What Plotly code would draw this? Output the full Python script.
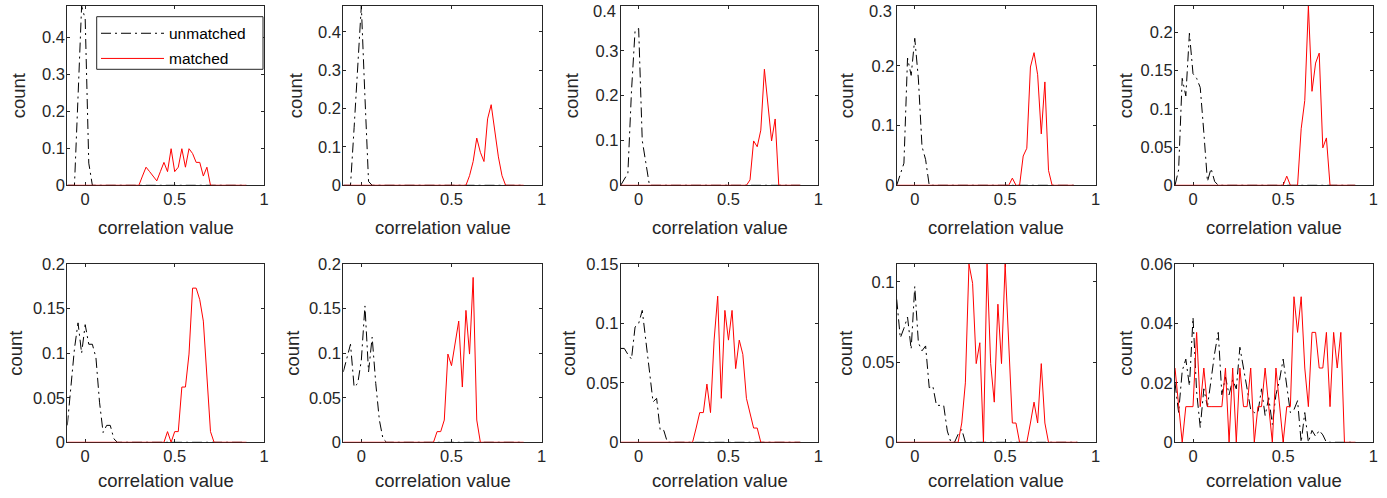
import plotly.graph_objects as go

# ---------------- data ----------------
bins = [-0.10, -0.08, -0.06, -0.04, -0.02, 0.00, 0.02, 0.04, 0.06, 0.08, 0.10, 0.12, 0.14, 0.16, 0.18, 0.20, 0.22,
        0.24, 0.26, 0.28, 0.30, 0.32, 0.34, 0.36, 0.38, 0.40, 0.42, 0.44, 0.46, 0.48, 0.50, 0.52, 0.54, 0.56,
        0.58, 0.60, 0.62, 0.64, 0.66, 0.68, 0.70, 0.72, 0.74, 0.76, 0.78, 0.80, 0.82, 0.84, 0.86, 0.88, 0.90]

unmatched_1 = [0, 0, 0, 0.24, 0.485, 0.45, 0.06, 0, 0, 0, 0, 0, 0, 0, 0, 0, 0,
               0, 0, 0, 0, 0, 0, 0, 0, 0, 0, 0, 0, 0, 0, 0, 0, 0,
               0, 0, 0, 0, 0, 0, 0, 0, 0, 0, 0, 0, 0, 0, 0, 0, 0]
matched_1 = [0, 0, 0, 0, 0, 0, 0, 0, 0, 0, 0, 0, 0, 0, 0, 0, 0,
             0, 0, 0, 0, 0.025, 0.049, 0.037, 0.025, 0.012, 0.037, 0.062, 0.037, 0.099, 0.037, 0.049, 0.099, 0.049,
             0.099, 0.086, 0.062, 0.062, 0.025, 0.049, 0, 0, 0, 0, 0, 0, 0, 0, 0, 0, 0]

unmatched_2 = [0, 0, 0, 0.15, 0.31, 0.467, 0.23, 0.01, 0, 0, 0, 0, 0, 0, 0, 0, 0,
               0, 0, 0, 0, 0, 0, 0, 0, 0, 0, 0, 0, 0, 0, 0, 0, 0,
               0, 0, 0, 0, 0, 0, 0, 0, 0, 0, 0, 0, 0, 0, 0, 0, 0]
matched_2 = [0, 0, 0, 0, 0, 0, 0, 0, 0, 0, 0, 0, 0, 0, 0, 0, 0,
             0, 0, 0, 0, 0, 0, 0, 0, 0, 0, 0, 0, 0, 0, 0, 0, 0,
             0, 0.025, 0.062, 0.123, 0.086, 0.062, 0.173, 0.21, 0.136, 0.074, 0.025, 0, 0, 0, 0, 0, 0]

unmatched_3 = [0, 0.013, 0.027, 0.21, 0.345, 0.35, 0.10, 0.05, 0, 0, 0, 0, 0, 0, 0, 0, 0,
               0, 0, 0, 0, 0, 0, 0, 0, 0, 0, 0, 0, 0, 0, 0, 0, 0,
               0, 0, 0, 0, 0, 0, 0, 0, 0, 0, 0, 0, 0, 0, 0, 0, 0]
matched_3 = [0, 0, 0, 0, 0, 0, 0, 0, 0, 0, 0, 0, 0, 0, 0, 0, 0,
             0, 0, 0, 0, 0, 0, 0, 0, 0, 0, 0, 0, 0, 0, 0, 0, 0,
             0, 0, 0.012, 0.099, 0.086, 0.123, 0.259, 0.173, 0.099, 0.148, 0, 0, 0, 0, 0, 0, 0]

unmatched_4 = [0, 0.02, 0.037, 0.213, 0.184, 0.246, 0.178, 0.065, 0.043, 0, 0, 0, 0, 0, 0, 0, 0,
               0, 0, 0, 0, 0, 0, 0, 0, 0, 0, 0, 0, 0, 0, 0, 0, 0,
               0, 0, 0, 0, 0, 0, 0, 0, 0, 0, 0, 0, 0, 0, 0, 0, 0]
matched_4 = [0, 0, 0, 0, 0, 0, 0, 0, 0, 0, 0, 0, 0, 0, 0, 0, 0,
             0, 0, 0, 0, 0, 0, 0, 0, 0, 0, 0, 0, 0, 0, 0, 0.012,
             0, 0, 0.049, 0.062, 0.198, 0.222, 0.185, 0.086, 0.173, 0.025, 0, 0, 0, 0, 0, 0, 0]

unmatched_5 = [0, 0.02, 0.14, 0.117, 0.199, 0.146, 0.14, 0.128, 0.069, 0.005, 0.022, 0.005, 0, 0, 0, 0, 0,
               0, 0, 0, 0, 0, 0, 0, 0, 0, 0, 0, 0, 0, 0, 0, 0, 0,
               0, 0, 0, 0, 0, 0, 0, 0, 0, 0, 0, 0, 0, 0, 0, 0, 0]
matched_5 = [0, 0, 0, 0, 0, 0, 0, 0, 0, 0, 0, 0, 0, 0, 0, 0, 0,
             0, 0, 0, 0, 0, 0, 0, 0, 0, 0, 0, 0, 0, 0, 0.012, 0, 0,
             0, 0.074, 0.111, 0.2346, 0.123, 0.16, 0.173, 0.049, 0.062, 0, 0, 0, 0, 0, 0, 0, 0]

unmatched_6 = [0.019, 0.06, 0.105, 0.134, 0.10, 0.132, 0.11, 0.11, 0.095, 0.045, 0.011, 0.019, 0.019, 0.004, 0, 0, 0,
               0, 0, 0, 0, 0, 0, 0, 0, 0, 0, 0, 0, 0, 0, 0, 0, 0,
               0, 0, 0, 0, 0, 0, 0, 0, 0, 0, 0, 0, 0, 0, 0, 0, 0]
matched_6 = [0, 0, 0, 0, 0, 0, 0, 0, 0, 0, 0, 0, 0, 0, 0, 0, 0,
             0, 0, 0, 0, 0, 0, 0, 0, 0, 0, 0, 0.012, 0, 0.012, 0.012, 0.062, 0.062,
             0.099, 0.173, 0.173, 0.16, 0.136, 0.074, 0.012, 0, 0, 0, 0, 0, 0, 0, 0, 0, 0]

unmatched_7 = [0.079, 0.096, 0.11, 0.062, 0.066, 0.092, 0.153, 0.079, 0.118, 0.066, 0.025, 0.004, 0, 0, 0, 0, 0,
               0, 0, 0, 0, 0, 0, 0, 0, 0, 0, 0, 0, 0, 0, 0, 0, 0,
               0, 0, 0, 0, 0, 0, 0, 0, 0, 0, 0, 0, 0, 0, 0, 0, 0]
matched_7 = [0, 0, 0, 0, 0, 0, 0, 0, 0, 0, 0, 0, 0, 0, 0, 0, 0,
             0, 0, 0, 0, 0, 0, 0, 0, 0, 0.012, 0.012, 0.025, 0.099, 0.086, 0.111, 0.136, 0.062,
             0.148, 0.099, 0.185, 0.025, 0, 0, 0, 0, 0, 0, 0, 0, 0, 0, 0, 0, 0]

unmatched_8 = [0.079, 0.079, 0.074, 0.07, 0.097, 0.10, 0.111, 0.083, 0.06, 0.034, 0.037, 0.01, 0.01, 0, 0, 0, 0,
               0, 0, 0, 0, 0, 0, 0, 0, 0, 0, 0, 0, 0, 0, 0, 0, 0,
               0, 0, 0, 0, 0, 0, 0, 0, 0, 0, 0, 0, 0, 0, 0, 0, 0]
matched_8 = [0, 0, 0, 0, 0, 0, 0, 0, 0, 0, 0, 0, 0, 0, 0, 0, 0,
             0, 0, 0, 0, 0.012, 0.025, 0.025, 0.049, 0.025, 0.086, 0.123, 0.037, 0.111, 0.086, 0.111, 0.062, 0.086,
             0.074, 0.037, 0.025, 0.012, 0.012, 0, 0, 0, 0, 0, 0, 0, 0, 0, 0, 0, 0]

unmatched_9 = [0.089, 0.065, 0.071, 0.078, 0.058, 0.097, 0.062, 0.057, 0.06, 0.034, 0.035, 0.023, 0.023, 0.023, 0.007, 0, 0,
               0.005, 0.008, 0, 0, 0, 0, 0, 0, 0, 0, 0, 0, 0, 0, 0, 0, 0,
               0, 0, 0, 0, 0, 0, 0, 0, 0, 0, 0, 0, 0, 0, 0, 0, 0]
matched_9 = [0, 0, 0, 0, 0, 0, 0, 0, 0, 0, 0, 0, 0, 0, 0, 0, 0,
             0, 0.012, 0.037, 0.111, 0.099, 0.049, 0.062, 0, 0.111, 0.049, 0.025, 0.086, 0.049, 0.111, 0.062, 0.012, 0.012,
             0, 0, 0, 0.012, 0.025, 0.012, 0.049, 0.012, 0, 0, 0, 0, 0, 0, 0, 0, 0]

unmatched_10 = [0.02, 0.01, 0.024, 0.028, 0.019, 0.042, 0.017, 0.005, 0.018, 0.012, 0.021, 0.03, 0.037, 0.016, 0.022, 0.016, 0.021,
                0.018, 0.032, 0.025, 0.018, 0.011, 0.01, 0.01, 0.018, 0.009, 0.015, 0.006, 0.016, 0.021, 0.028, 0.018, 0.01, 0.011,
                0.014, 0, 0.01, 0, 0.004, 0.002, 0.004, 0.0025, 0, 0, 0, 0, 0, 0, 0, 0, 0]
matched_10 = [0.025, 0.012, 0, 0.012, 0.012, 0.012, 0.037, 0.012, 0.025, 0.012, 0.012, 0.012, 0.012, 0.012, 0.025, 0, 0.025,
              0, 0.025, 0.012, 0.012, 0.025, 0, 0.012, 0.012, 0.025, 0.012, 0, 0.025, 0.012, 0, 0.012, 0.012, 0.049,
              0.037, 0.049, 0.025, 0.012, 0.037, 0.037, 0.025, 0.025, 0.037, 0.012, 0.037, 0.025, 0.037, 0, 0, 0, 0]

unmatched = [unmatched_1, unmatched_2, unmatched_3, unmatched_4, unmatched_5,
             unmatched_6, unmatched_7, unmatched_8, unmatched_9, unmatched_10]
matched = [matched_1, matched_2, matched_3, matched_4, matched_5,
           matched_6, matched_7, matched_8, matched_9, matched_10]

y_max = [0.485, 0.467, 0.4, 0.3, 0.2346, 0.2, 0.2, 0.15, 0.111, 0.06]
y_ticks = [[0, 0.1, 0.2, 0.3, 0.4], [0, 0.1, 0.2, 0.3, 0.4], [0, 0.1, 0.2, 0.3, 0.4], [0, 0.1, 0.2, 0.3],
           [0, 0.05, 0.1, 0.15, 0.2], [0, 0.05, 0.1, 0.15, 0.2], [0, 0.05, 0.1, 0.15, 0.2],
           [0, 0.05, 0.1, 0.15], [0, 0.05, 0.1], [0, 0.02, 0.04, 0.06]]
y_ticktext = [["0", "0.1", "0.2", "0.3", "0.4"], ["0", "0.1", "0.2", "0.3", "0.4"], ["0", "0.1", "0.2", "0.3", "0.4"],
              ["0", "0.1", "0.2", "0.3"], ["0", "0.05", "0.1", "0.15", "0.2"], ["0", "0.05", "0.1", "0.15", "0.2"],
              ["0", "0.05", "0.1", "0.15", "0.2"], ["0", "0.05", "0.1", "0.15"], ["0", "0.05", "0.1"],
              ["0", "0.02", "0.04", "0.06"]]
x_ticks = [0, 0.5, 1]
x_ticktext = ["0", "0.5", "1"]
x_label = "correlation value"
y_label = "count"
series_names = ["unmatched", "matched"]

# ---------------- layout geometry (pixels) ----------------
W, H = 1387, 498
col_left = [67.3, 343.3, 620.7, 896.7, 1175.0]
col_right = [264.2, 541.7, 818.3, 1095.5, 1373.3]
row_top = [6.0, 264.0]
row_bot = [185.3, 442.3]
xlabel_off = [42.5, 38.5]
ytitle_standoff = [11, 10, 11, 12, 3, 5, 4, 5, 4, 3]

FONT = "Liberation Sans, Arial, sans-serif"
AX_COL = "#262626"
TICK_SIZE = 16.5

fig = go.Figure()
annotations = []
for k in range(10):
    r, c = divmod(k, 5)
    n = k + 1
    sfx = "" if n == 1 else str(n)
    xa, ya = "x" + sfx, "y" + sfx
    fig.add_trace(go.Scatter(
        x=bins, y=unmatched[k], mode="lines", name=series_names[0], legendgroup="u",
        showlegend=(k == 0), xaxis=xa, yaxis=ya,
        line=dict(color="black", width=1, dash="10px,4px,2px,4px")))
    fig.add_trace(go.Scatter(
        x=bins, y=matched[k], mode="lines", name=series_names[1], legendgroup="m",
        showlegend=(k == 0), xaxis=xa, yaxis=ya,
        line=dict(color="#ff0000", width=1)))
    common = dict(showline=True, linecolor=AX_COL, linewidth=1, mirror="ticks",
                  ticks="inside", ticklen=3, tickcolor=AX_COL, tickwidth=1,
                  showgrid=False, zeroline=False, layer="below traces", automargin=False,
                  ticklabeloverflow="allow",
                  tickfont=dict(family=FONT, size=TICK_SIZE, color=AX_COL))
    labels = list(y_ticktext[k])
    # a top tick label that sits at the very top edge of the page is drawn as an
    # annotation pushed just inside the page (as in the reference)
    if r == 0 and y_ticks[k][-1] >= y_max[k] - 1e-9:
        annotations.append(dict(
            x=(col_left[c] - 2.5) / W, y=1.0, xref="paper", yref="paper",
            text=labels[-1], showarrow=False, xanchor="right", yanchor="top",
            font=dict(family=FONT, size=TICK_SIZE, color=AX_COL)))
        labels[-1] = ""
    fig.layout["xaxis" + sfx] = dict(
        domain=[col_left[c] / W, col_right[c] / W], anchor=ya, range=[-0.1, 1.0001],
        tickvals=x_ticks, ticktext=x_ticktext, ticklabelstandoff=-1, **common)
    fig.layout["yaxis" + sfx] = dict(
        domain=[1 - row_bot[r] / H, 1 - row_top[r] / H], anchor=xa,
        range=[0, y_max[k] * 1.0003],
        tickvals=y_ticks[k], ticktext=labels, ticklabelstandoff=-2,
        title=dict(text=y_label, standoff=ytitle_standoff[k],
                   font=dict(family=FONT, size=18.5, color=AX_COL)),
        **common)
    cx = (col_left[c] + col_right[c]) / 2
    annotations.append(dict(
        x=cx / W, y=1 - (row_bot[r] + xlabel_off[r]) / H, xref="paper", yref="paper",
        text=x_label, showarrow=False, xanchor="center", yanchor="middle",
        font=dict(family=FONT, size=18.5, color=AX_COL)))

legend_box = dict(type="rect", xref="paper", yref="paper",
                  x0=96.7 / W, x1=263.0 / W, y0=1 - 69.3 / H, y1=1 - 16.7 / H,
                  line=dict(color=AX_COL, width=1), fillcolor="white", layer="above")

fig.update_layout(
    width=W, height=H, margin=dict(l=0, r=0, t=0, b=0),
    paper_bgcolor="white", plot_bgcolor="white",
    annotations=annotations, shapes=[legend_box],
    legend=dict(x=96.0 / W, y=1 - 16.7 / H, xanchor="left", yanchor="top",
                bgcolor="rgba(0,0,0,0)", borderwidth=0,
                font=dict(family=FONT, size=15.5, color="black"),
                itemwidth=63, tracegroupgap=2),
)

fig.write_html("out.html", config={"displayModeBar": False},
               post_script="document.body.style.margin='0';document.body.style.padding='0';")
